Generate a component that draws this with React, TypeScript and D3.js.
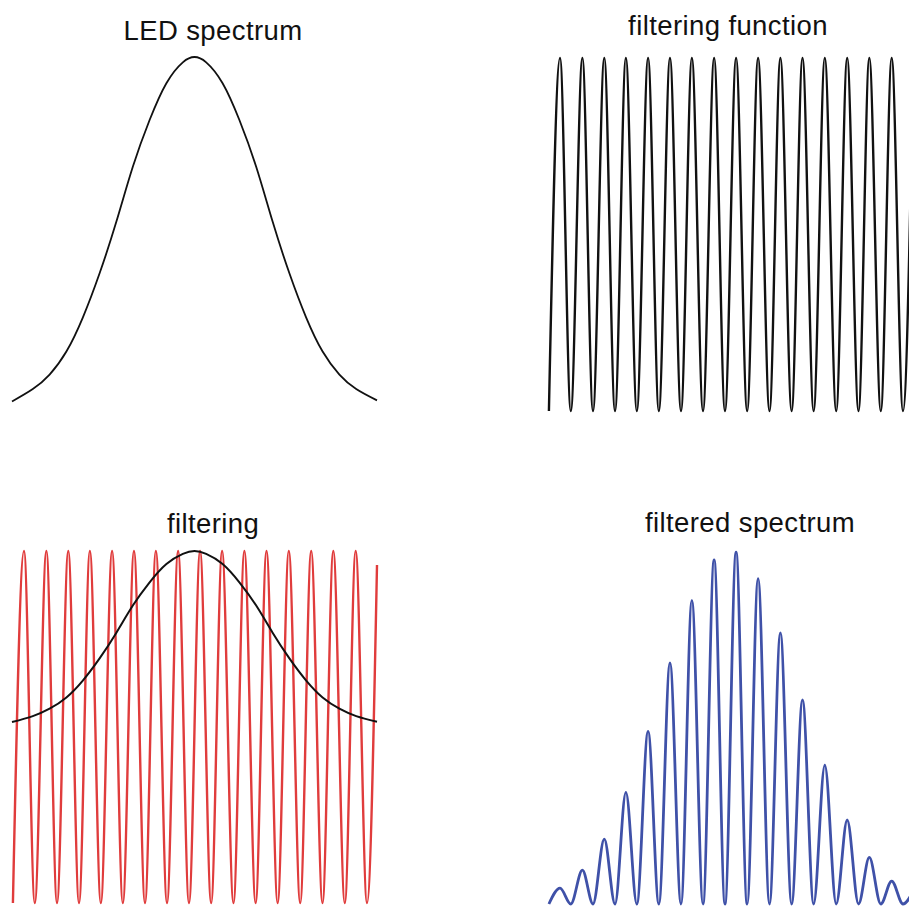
import React, { useEffect, useRef } from 'react';
import * as d3 from 'd3';

// relative wavelength runs 0..100 across every panel
const ledX = [0, 5.7, 10.3, 14.9, 19.4, 24.0, 28.6, 33.1, 37.7, 42.3, 46.8, 50, 53.2, 57.7, 62.3, 66.9, 71.4, 76.0, 80.6, 85.1, 89.7, 94.3, 100];
const ledY = [0.027, 0.062, 0.103, 0.168, 0.264, 0.389, 0.535, 0.69, 0.822, 0.926, 0.985, 1.0, 0.985, 0.926, 0.822, 0.69, 0.535, 0.389, 0.264, 0.168, 0.103, 0.062, 0.03];

// black envelope drawn over the red filter in the "filtering" panel
const envelopeY = [0.514, 0.531, 0.552, 0.584, 0.632, 0.695, 0.768, 0.845, 0.911, 0.963, 0.992, 1.0, 0.992, 0.963, 0.911, 0.845, 0.768, 0.695, 0.632, 0.584, 0.552, 0.531, 0.515];

// fringe maxima / minima of the filtering function
const peakX = [3.29, 9.42, 15.42, 21.34, 27.42, 33.42, 39.42, 45.51, 51.53, 57.56, 63.67, 69.73, 75.84, 81.97, 88.03, 94.16];
const troughX = [0.25, 6.25, 12.33, 18.36, 24.34, 30.37, 36.44, 42.47, 48.49, 54.56, 60.68, 66.75, 72.78, 78.96, 85.07, 91.18, 97.26];
const filterEnd = 0.96;

// heights of the filtered spectrum fringes
const filteredPeaks = [0.045, 0.096, 0.184, 0.316, 0.489, 0.683, 0.86, 0.975, 0.997, 0.922, 0.768, 0.578, 0.393, 0.238, 0.132, 0.065];
const filteredEnd = 0.035;

const titles = ['LED spectrum', 'filtering function', 'filtering', 'filtered spectrum'];

type Pt = [number, number];

function fringes(heights: number[], end: number): Pt[] {
  const pts: Pt[] = [];
  troughX.forEach((t, i) => {
    pts.push([t, 0]);
    if (i < peakX.length) pts.push([peakX[i], heights[i]]);
  });
  pts.push([100, end]);
  return pts;
}

function App() {
  const ref = useRef<SVGSVGElement>(null);

  useEffect(() => {
    const svg = d3.select(ref.current);
    svg.selectAll('*').remove();

    const panels = [
      { x0: 12, top: 57, bottom: 411, tx: 213, ty: 40 },
      { x0: 548, top: 58, bottom: 411, tx: 728, ty: 35 },
      { x0: 12, top: 551, bottom: 903, tx: 213, ty: 533 },
      { x0: 548, top: 551, bottom: 904, tx: 750, ty: 532 },
    ];

    const scales = panels.map(p => ({
      x: d3.scaleLinear().domain([0, 100]).range([p.x0, p.x0 + 365]),
      y: d3.scaleLinear().domain([0, 1]).range([p.bottom, p.top]),
    }));

    const draw = (i: number, pts: Pt[], color: string, w: number, curve: d3.CurveFactory) => {
      const { x, y } = scales[i];
      const line = d3.line<Pt>()
        .x(d => x(d[0]))
        .y(d => y(d[1]))
        .curve(curve);
      svg.append('path')
        .datum(pts)
        .attr('fill', 'none')
        .attr('stroke', color)
        .attr('stroke-width', w)
        .attr('stroke-linejoin', 'round')
        .attr('d', line);
    };

    const led: Pt[] = ledX.map((v, i) => [v, ledY[i]]);
    const env: Pt[] = ledX.map((v, i) => [v, envelopeY[i]]);
    const ones = peakX.map(() => 1);

    draw(0, led, '#111', 1.8, d3.curveNatural);
    draw(1, fringes(ones, filterEnd), '#111', 2.4, d3.curveMonotoneX);
    draw(2, fringes(ones, filterEnd), '#e03c3c', 2.4, d3.curveMonotoneX);
    draw(2, env, '#111', 2, d3.curveNatural);
    draw(3, fringes(filteredPeaks, filteredEnd), '#3f51a8', 2.8, d3.curveMonotoneX);

    svg.selectAll('text.title')
      .data(titles)
      .enter()
      .append('text')
      .attr('class', 'title')
      .attr('x', (d, i) => panels[i].tx)
      .attr('y', (d, i) => panels[i].ty)
      .attr('text-anchor', 'middle')
      .attr('font-family', '"Liberation Sans", Arial, Helvetica, sans-serif')
      .attr('font-size', 27.5)
      .attr('letter-spacing', 0.4)
      .attr('fill', '#111')
      .text(d => d);
  }, []);

  return (
    <svg ref={ref} width={909} height={906}
      style={{ position: 'absolute', left: 0, top: 0, background: '#fff' }} />
  );
}

export default App;
